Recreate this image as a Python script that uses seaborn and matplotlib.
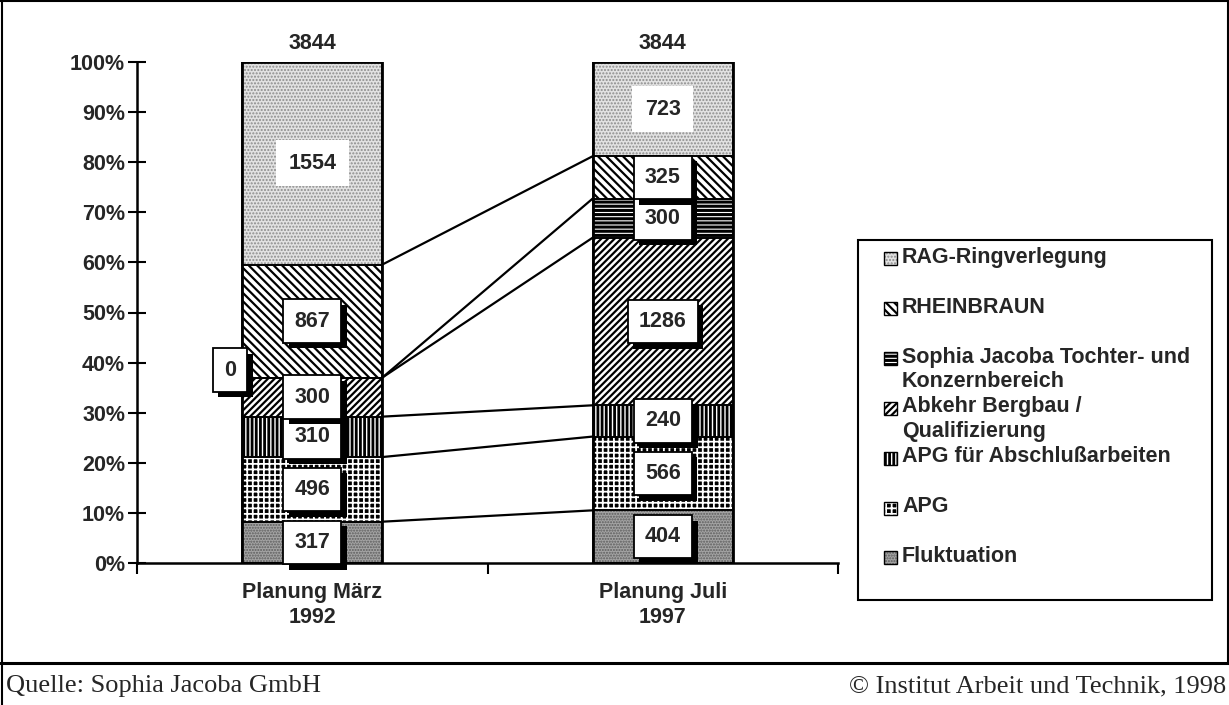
import numpy as np
import pandas as pd
import seaborn as sns
import matplotlib
matplotlib.use("Agg")
import matplotlib.pyplot as plt
from matplotlib.patches import Rectangle
from matplotlib.lines import Line2D
import matplotlib.patheffects as pe

# ---------------- data ----------------
categories = ["Planung März\n1992", "Planung Juli\n1997"]
series_names = ["Fluktuation", "APG", "APG für Abschlußarbeiten",
                "Abkehr Bergbau /\nQualifizierung",
                "Sophia Jacoba Tochter- und\nKonzernbereich",
                "RHEINBRAUN", "RAG-Ringverlegung"]
fluktuation = [317, 404]
apg = [496, 566]
apg_abschluss = [310, 240]
abkehr_bergbau = [300, 1286]
sophia_jacoba = [0, 300]
rheinbraun = [867, 325]
rag_ring = [1554, 723]
y_ticks = [0, 10, 20, 30, 40, 50, 60, 70, 80, 90, 100]
y_tick_labels = [f"{t}%" for t in y_ticks]
source_text = "Quelle: Sophia Jacoba GmbH"
copyright_text = "© Institut Arbeit und Technik, 1998"

values = np.array([fluktuation, apg, apg_abschluss, abkehr_bergbau,
                   sophia_jacoba, rheinbraun, rag_ring], dtype=float)
totals = values.sum(axis=0)
pct = values / totals * 100
bottoms = np.vstack([np.zeros(values.shape[1]), np.cumsum(pct, axis=0)[:-1]])
tops = bottoms + pct

# ---------------- styles ----------------
styles = [
    dict(face="#a4a4a4", hatch="......", hcolor="#5c5c5c", hlw=1.0),   # Fluktuation
    dict(face="black", hatch="+++", hcolor="white", hlw=1.3),          # APG
    dict(face="white", hatch="||||", hcolor="black", hlw=2.0),         # APG Abschluss
    dict(face="white", hatch="/////", hcolor="black", hlw=1.6),        # Abkehr
    dict(face="white", hatch="----", hcolor="black", hlw=2.2),         # Sophia
    dict(face="white", hatch="\\\\\\\\", hcolor="black", hlw=1.6),     # Rheinbraun
    dict(face="#e2e2e2", hatch=".....", hcolor="#8c8c8c", hlw=1.0),    # RAG
]

sns.set_theme(style="ticks")
plt.rcParams['font.family'] = ['Liberation Sans', 'DejaVu Sans']
plt.rcParams['font.weight'] = 'bold'
FS = 15.5

W, H = 1229, 705
fig = plt.figure(figsize=(W / 100, H / 100), dpi=100)
fig.patch.set_facecolor("white")
ax = fig.add_axes([137 / W, 1 - 563 / H, (838 - 137) / W, (563 - 62) / H])
ax.set_facecolor("white")


def apply_style(p, st):
    p.set_facecolor(st["face"])
    p.set_edgecolor(st["hcolor"])
    p.set_hatch(st["hatch"])
    p.set_linewidth(0)
    if hasattr(p, "set_hatch_linewidth"):
        p.set_hatch_linewidth(st["hlw"])


bar_patches = []
for i, name in enumerate(series_names):
    st = styles[i]
    df = pd.DataFrame({"Planung": categories, "Anteil": pct[i]})
    n0 = len(ax.patches)
    with plt.rc_context({"hatch.linewidth": st["hlw"]}):
        sns.barplot(data=df, x="Planung", y="Anteil", order=categories,
                    bottom=bottoms[i], width=0.4, errorbar=None, ax=ax,
                    color=st["face"], saturation=1)
    new = list(ax.patches[n0:])
    for p in new:
        apply_style(p, st)
    bar_patches.append(new)

# segment outlines
for i in range(len(series_names)):
    for p in bar_patches[i]:
        ax.add_patch(Rectangle(p.get_xy(), p.get_width(), p.get_height(),
                               fill=False, ec="black", lw=1.2, zorder=3))
# outer bar outlines
for j in range(len(categories)):
    p0 = bar_patches[0][j]
    ax.add_patch(Rectangle((p0.get_x(), 0), p0.get_width(), tops[-1, j],
                           fill=False, ec="black", lw=2.0, zorder=3))

# connecting lines
xr = bar_patches[0][0].get_x() + bar_patches[0][0].get_width()
xl = bar_patches[0][1].get_x()
for i in range(len(series_names) - 1):
    ax.plot([xr, xl], [tops[i, 0], tops[i, 1]], color="black", lw=1.6,
            zorder=2, solid_capstyle="butt")

# value labels
shadow = [pe.SimplePatchShadow(offset=(4, -4), shadow_rgbFace="black", alpha=1.0),
          pe.Normal()]
for i in range(len(series_names)):
    for j in range(len(categories)):
        v = values[i, j]
        yc = bottoms[i, j] + pct[i, j] / 2
        xc = j
        if i == len(series_names) - 1:
            ax.text(xc, yc, f"{int(v)}", ha="center", va="center", fontsize=FS,
                    zorder=6, bbox=dict(boxstyle="square,pad=0.58", fc="white",
                                        ec="none"))
            continue
        if v == 0:
            xc = j - 0.235
            yc = bottoms[i, j] + 1.5
        t = ax.text(xc, yc, f"{int(v)}", ha="center", va="center", fontsize=FS,
                    zorder=6 + i, bbox=dict(boxstyle="square,pad=0.52", fc="white",
                                            ec="black", lw=1.3))
        t.get_bbox_patch().set_path_effects(shadow)

# totals
for j in range(len(categories)):
    ax.annotate(f"{int(totals[j])}", xy=(j, 100), xytext=(0, 6),
                textcoords="offset points", ha="center", va="bottom",
                fontsize=FS, annotation_clip=False)

# axes
ax.set_xlim(-0.5, 1.5)
ax.set_ylim(0, 100)
ax.set_yticks(y_ticks)
ax.set_yticklabels(y_tick_labels)
ax.set_xticks([0, 1])
ax.set_xticklabels(categories)
ax.set_xticks([-0.5, 0.5, 1.5], minor=True)
ax.set_xlabel("")
ax.set_ylabel("")
ax.tick_params(axis="x", which="major", length=0, pad=14, labelsize=FS)
ax.tick_params(axis="x", which="minor", length=8, width=1.5, direction="out",
               color="black", bottom=True)
ax.tick_params(axis="y", length=13, width=1.5, direction="inout", pad=2,
               labelsize=FS, color="black", left=True)
for s in ["top", "right"]:
    ax.spines[s].set_visible(False)
for s in ["left", "bottom"]:
    ax.spines[s].set_linewidth(1.8)
    ax.spines[s].set_color("black")

# manual legend (Excel style: fixed slots)
fig.add_artist(Rectangle((858 / W, 1 - 600 / H), (1212 - 858) / W, (600 - 240) / H,
                         transform=fig.transFigure, fill=False, ec="black", lw=1.5))
order = list(reversed(range(len(series_names))))
for k, i in enumerate(order):
    yc = 259 + 49.8 * k
    st = styles[i]
    hs = 13
    with plt.rc_context({"hatch.linewidth": st["hlw"] * 0.8}):
        r = Rectangle((884 / W, 1 - (yc + hs / 2) / H), hs / W, hs / H,
                      transform=fig.transFigure)
    apply_style(r, st)
    fig.add_artist(r)
    fig.add_artist(Rectangle((884 / W, 1 - (yc + hs / 2) / H), hs / W, hs / H,
                             transform=fig.transFigure, fill=False, ec="black",
                             lw=1.0))
    fig.text(902 / W, 1 - (yc - 12) / H, series_names[i], ha="left", va="top",
             fontsize=FS, linespacing=1.2)

# frame and footer
frame_kw = dict(transform=fig.transFigure, color="black", lw=1.5)
fig.add_artist(Line2D([1.5 / W, 1.5 / W], [0, 1], **frame_kw))
fig.add_artist(Line2D([0, 1], [1 - 1 / H, 1 - 1 / H], **frame_kw))
fig.add_artist(Line2D([1227.5 / W, 1227.5 / W], [1 - 663 / H, 1], **frame_kw))
fig.add_artist(Line2D([0, 1], [1 - 663 / H, 1 - 663 / H], transform=fig.transFigure,
                      color="black", lw=2.2))
fig.text(6 / W, 1 - 686 / H, source_text, ha="left", va="center",
         family=["Liberation Serif", "DejaVu Serif"], weight="normal", fontsize=19)
fig.text(1226 / W, 1 - 686 / H, copyright_text, ha="right", va="center",
         family=["Liberation Serif", "DejaVu Serif"], weight="normal", fontsize=19)

fig.savefig("out.png", dpi=100, facecolor="white")
